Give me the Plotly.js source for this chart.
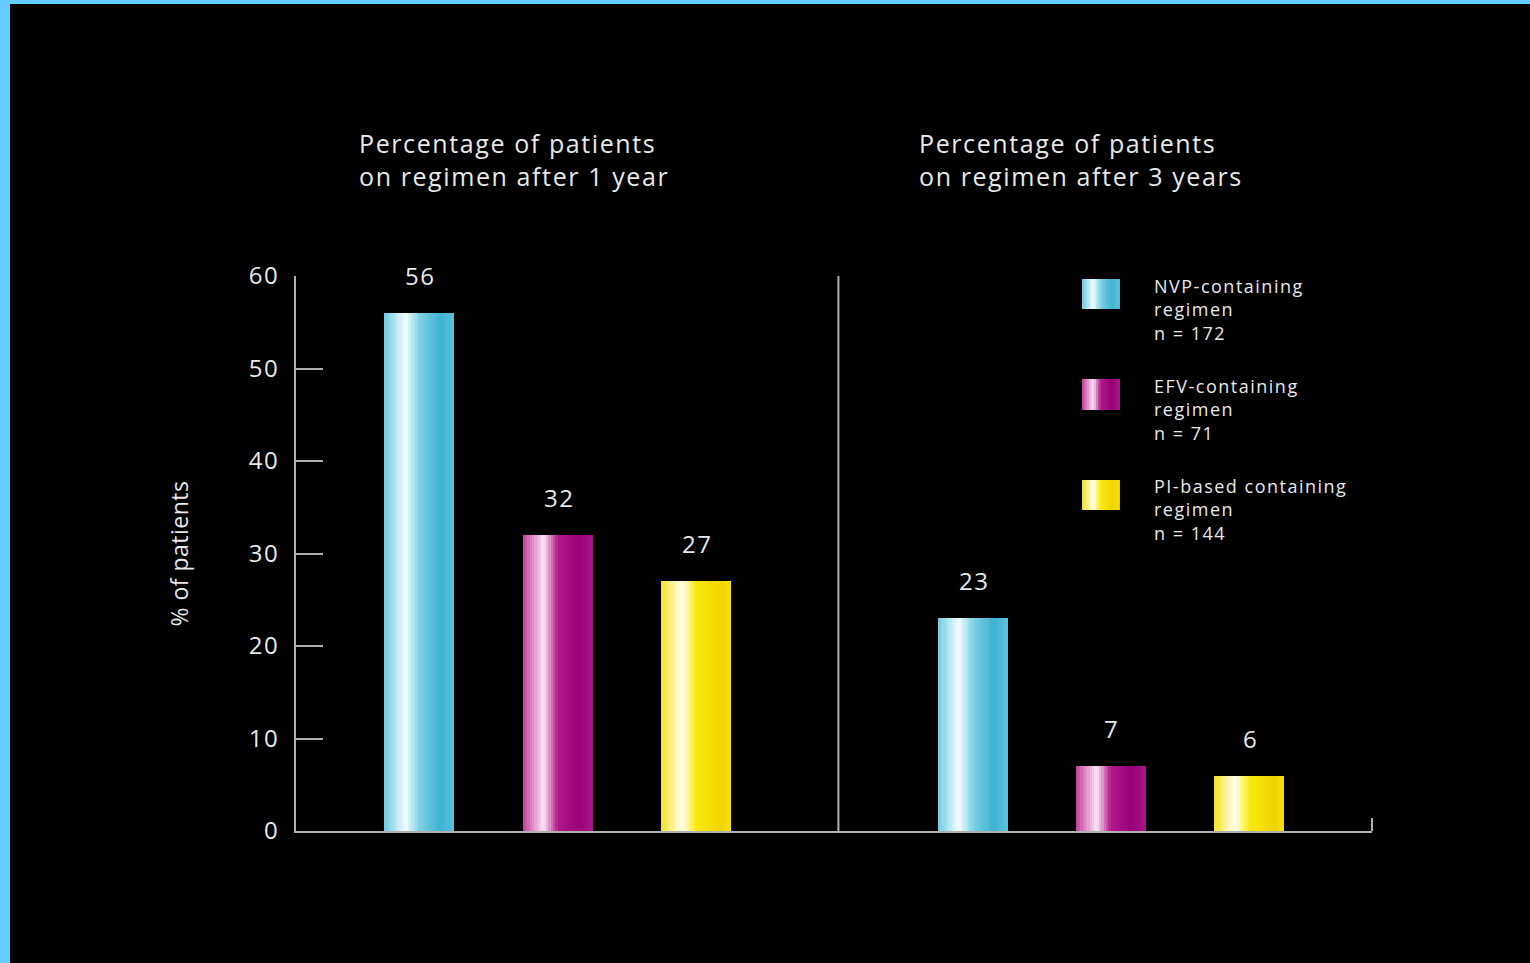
<!DOCTYPE html>
<html>
<head>
<meta charset="utf-8">
<script src="https://cdn.plot.ly/plotly-3.0.1.min.js"></script>
<style>
  html, body { margin: 0; padding: 0; background: #66ccff; width: 1530px; height: 963px; overflow: hidden; }
  #chart { position: absolute; left: 10px; top: 4px; width: 1520px; height: 959px; background: #000; }
  text.annotation-text[style*="font-size: 25px"] { letter-spacing: 1.6px; }
  text.annotation-text[style*="font-size: 18px"] { letter-spacing: 1.5px; }
  text.annotation-text[style*="font-size: 24px"] { letter-spacing: 1.5px; }
  .ytick text { letter-spacing: 1.5px; }
  .ytitle { letter-spacing: 0.5px; }
</style>
</head>
<body>
<div id="chart"></div>
<script>
// ---- data ----
const periods = ['Percentage of patients<br>on regimen after 1 year', 'Percentage of patients<br>on regimen after 3 years'];
const regimens = ['NVP-containing<br>regimen', 'EFV-containing<br>regimen', 'PI-based containing<br>regimen'];
const nLabels = ['n = 172', 'n = 71', 'n = 144'];
const after1Year = [56, 32, 27];
const after3Years = [23, 7, 6];
const yTicks = [0, 10, 20, 30, 40, 50, 60];

// ---- styles ----
const gradients = [
  [[0, '#6ccadf'], [0.3, '#f4feff'], [0.5, '#7fd2e4'], [0.8, '#3fb2d3'], [1, '#5cc2dc']],
  [[0, '#c23a9a'], [0.3, '#fbe6f4'], [0.5, '#b21a8c'], [0.8, '#990078'], [1, '#a51685']],
  [[0, '#f3e226'], [0.3, '#fffff2'], [0.5, '#f9ea10'], [0.85, '#f1d400'], [1, '#f6df10']]
];
const textColor = '#e8e8e8';
const axisColor = '#b0b0b0';
const FONT = 'Open Sans, Noto Sans, sans-serif';

function hexToRgb(h) { return [1,3,5].map(i => parseInt(h.substr(i,2),16)); }
function gradAt(stops, t) {
  for (let k = 0; k < stops.length - 1; k++) {
    const [t0, c0] = stops[k], [t1, c1] = stops[k+1];
    if (t >= t0 && t <= t1) {
      const u = (t - t0) / (t1 - t0);
      const a = hexToRgb(c0), b = hexToRgb(c1);
      const c = a.map((v, i) => Math.round(v + (b[i] - v) * u));
      return 'rgb(' + c.join(',') + ')';
    }
  }
  return stops[stops.length-1][1];
}

const BARW = 0.506;
const NS = 30;
const traces = [];
regimens.forEach((name, r) => {
  const xs = [r, 4 + r];
  const ys = [after1Year[r], after3Years[r]];
  for (let i = 0; i < NS; i++) {
    traces.push({
      type: 'bar',
      x: xs,
      y: ys,
      offset: -BARW/2 + i * BARW / NS,
      width: BARW * (1 - i / NS),
      marker: { color: gradAt(gradients[r], (i + 0.5) / NS), line: { width: 0 } },
      hoverinfo: 'skip',
      showlegend: false
    });
  }
});

const annotations = [];
// value labels
regimens.forEach((name, r) => {
  [after1Year[r], after3Years[r]].forEach((v, g) => {
    annotations.push({
      x: g * 4 + r, y: v, xref: 'x', yref: 'y', text: String(v),
      showarrow: false, yanchor: 'bottom', yshift: 19, xshift: 1,
      font: { family: FONT, size: 24, color: textColor }
    });
  });
});
// panel titles
const titleX = [0.0567, 0.5771];
periods.forEach((t, g) => {
  annotations.push({
    x: titleX[g], y: 1.21, xref: 'paper', yref: 'paper', text: t,
    showarrow: false, xanchor: 'left', yanchor: 'middle', align: 'left',
    font: { family: FONT, size: 25, color: textColor }
  });
});
// legend
const shapes = [];
const legY = [[0.9946, 0.9405], [0.8144, 0.7586], [0.6324, 0.5784]];
const swX0 = 0.7305, swX1 = 0.765;
regimens.forEach((name, r) => {
  const NSW = 16;
  for (let i = 0; i < NSW; i++) {
    shapes.push({
      type: 'rect', xref: 'paper', yref: 'paper',
      x0: swX0 + (swX1 - swX0) * i / NSW, x1: swX1,
      y0: legY[r][1], y1: legY[r][0],
      fillcolor: gradAt(gradients[r], (i + 0.5) / NSW), line: { width: 0 }, layer: 'above'
    });
  }
  annotations.push({
    x: 0.7955, y: legY[r][1], xref: 'paper', yref: 'paper',
    text: name + '<br>' + nLabels[r], showarrow: false,
    xanchor: 'left', yanchor: 'middle', align: 'left',
    font: { family: FONT, size: 18, color: textColor }
  });
});
// divider between panels
shapes.push({ type: 'line', xref: 'x', yref: 'paper', x0: 3.03, x1: 3.03, y0: 0, y1: 1,
  line: { color: axisColor, width: 2 } });
// right-end tick of x axis
shapes.push({ type: 'line', xref: 'paper', yref: 'paper', x0: 1, x1: 1, ysizemode: 'pixel', yanchor: 0, y0: 0, y1: 13,
  line: { color: axisColor, width: 2 } });

const layout = {
  width: 1520, height: 959,
  paper_bgcolor: '#000', plot_bgcolor: '#000',
  margin: { l: 286, r: 158, t: 272, b: 132 },
  barmode: 'overlay', bargap: 0,
  showlegend: false,
  font: { family: FONT, color: textColor },
  xaxis: {
    range: [-0.893, 6.889], showgrid: false, zeroline: false,
    showline: true, linecolor: axisColor, linewidth: 2,
    showticklabels: false, ticks: '', fixedrange: true
  },
  yaxis: {
    range: [0, 60], tickvals: yTicks, ticktext: yTicks.map(String),
    showgrid: false, zeroline: false,
    showline: true, linecolor: axisColor, linewidth: 2,
    ticks: 'inside', ticklen: 27, tickwidth: 2, tickcolor: axisColor,
    ticklabelstandoff: 10,
    tickfont: { family: FONT, size: 24, color: textColor },
    title: { text: '% of patients', standoff: 54, font: { family: FONT, size: 23, color: textColor } },
    fixedrange: true
  },
  annotations: annotations,
  shapes: shapes
};

Plotly.newPlot('chart', traces, layout, { displayModeBar: false, staticPlot: true });
</script>
</body>
</html>
